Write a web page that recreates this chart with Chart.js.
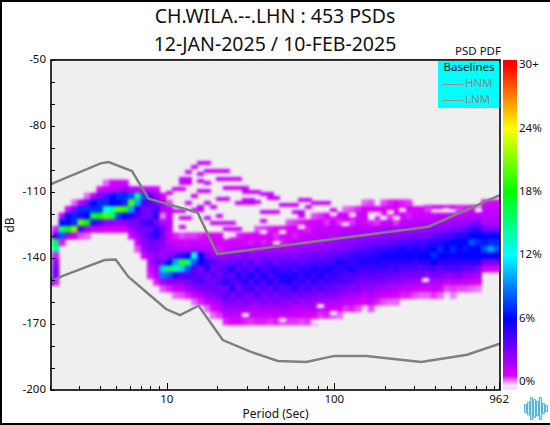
<!DOCTYPE html>
<html>
<head>
<meta charset="utf-8">
<title>PSD PDF</title>
<script src="https://cdn.jsdelivr.net/npm/chart.js@4"></script>
<style>
    html, body { margin: 0; padding: 0; background: #fff; }
    canvas { display: block; }
</style>
</head>
<body>
<canvas id="pdfChart" width="550" height="425"></canvas>
<script>
// Titles
const titleLines = ['CH.WILA.--.LHN : 453 PSDs', '12-JAN-2025 / 10-FEB-2025'];
const legendTitle = 'Baselines';
const colorbarTitle = 'PSD PDF';

// Axis ticks
const periodTicks = [2, 3, 4, 5, 6, 7, 8, 9, 10, 20, 30, 40, 50, 60, 70, 80, 90, 100, 200, 300, 400, 500, 600, 700, 800, 900, 962];
const periodLabels = [10, 100, 962];
const dbLabels = [-50, -80, -110, -140, -170, -200];
const pctTicks = [0, 6, 12, 18, 24, 30];

// Noise baselines
const hnmPeriods = [2.04, 4.03, 4.5, 6.2, 7.8, 15.3, 20, 364, 1000];
const hnmDb = [-106.4, -97, -96.4, -100.5, -113, -119.4, -138.2, -125.8, -111];
const lnmPeriods = [2.04, 2.38, 4.25, 4.96, 5.9, 7.7, 9.9, 12, 15.5, 21.6, 31.8, 46, 68, 100, 155, 330, 620, 1000];
const lnmDb = [-150.8, -148.2, -140.9, -140.7, -148.5, -156, -163.2, -166, -161.7, -177.3, -182.7, -186.8, -187.3, -184.5, -184.5, -187.3, -184, -178.6];

// Colour bar: percent -> colour
const colorPcts = [-0.3, 0.6, 6, 12, 18, 24, 30];
const colorRgb = [[246, 222, 248], [216, 0, 255], [0, 0, 255], [0, 255, 255], [0, 255, 0], [255, 255, 0], [255, 0, 0]];

// PDF: period of each column, dB of the top cell in it, then percent per 3 dB going down
const pdfPeriods = [2, 2.18, 2.38, 2.59, 2.83, 3.08, 3.36, 3.67, 4, 4.36, 4.76, 5.19, 5.66, 6.17, 6.73, 7.34,
    8, 8.72, 9.51, 10.37, 11.31, 12.34, 13.45, 14.67, 16, 17.45, 19.03, 20.75, 22.63, 24.68, 26.91, 29.34,
    32, 34.9, 38.05, 41.5, 45.25, 49.35, 53.82, 58.69, 64, 69.79, 76.11, 83, 90.51, 98.7, 107.6, 117.4,
    128, 139.6, 152.2, 166, 181, 197.4, 215.3, 234.8, 256, 279.2, 304.4, 332, 362, 394.8, 430.5, 469.5,
    512, 558.3, 608.9, 664, 724, 789.6, 861, 939];
const pdfTopDb = [-139, -127, -121, -118, -115, -115, -112, -112, -109, -106, -106, -106, -106, -109, -109, -109,
    -109, -109, -112, -97, -97, -97, -97, -97, -97, -97, -97, -97, -97, -97, -97, -97,
    -97, -97, -97, -97, -97, -97, -97, -97, -97, -97, -97, -97, -97, -97, -97, -118,
    -118, -118, -115, -115, -118, -115, -115, -115, -115, -115, -118, -118, -118, -115, -115, -115,
    -115, -115, -115, -115, -115, -115, -115, -115];
const pdfValues = [
    [3, 6, 15, 18, 3],
    [0.5, 4, 16, 14, 0.5, 2, 3, 3, 0.5],
    [1.2, 6, 15, 8, 0.5],
    [0.7, 6, 6, 18, 2],
    [0.2, 3, 7, 7, 21, 1],
    [1.5, 7, 5, 20, 4, 0.3],
    [0.2, 3, 7, 6, 18, 2, 0.2],
    [1.5, 6, 7, 17, 5, 1],
    [0.7, 3, 7, 7, 18, 4, 1],
    [0.2, 1.2, 4, 7, 12, 20, 2.5, 0.7],
    [0.7, 1.5, 6, 6, 14, 16, 2.5, 0.7],
    [0.7, 1.5, 7, 6, 20, 7, 2, 0.7],
    [0.7, 2.5, 7, 7, 19, 6, 2.5, 0.7],
    [1.5, 8, 20, 10, 5, 3, 2, 0.8],
    [1.5, 15, 10, 5, 4, 3, 3, 2, 1, 0.3],
    [1.2, 8, 4, 3, 3, 4, 3, 3, 2.5, 2, 0.8],
    [1, 4, 4, 3, 3, 5, 3, 4, 3, 3, 2, 1.5, 1, 0.5],
    [0.7, 2.5, 3, 4.5, 5, 3, 5, 5, 3, 3, 2.5, 3, 2, 1.5, 0.5],
    [0.7, 2, 1.5, 0.1, 1.5, 3, 3, 2.5, 2, 2, 3, 11, 9, 2, 0.3],
    [0, 0, 0, 0, 0, 0, 0.3, 1.2, 1, 1.5, 1.2, 1.2, 1.2, 2, 2.5, 6, 16, 8, 2.5, 0.5],
    [0, 0, 0, 0, 0, 0, 0, 0, 0, 0, 0, 0.5, 1, 1.5, 4, 10, 14, 5, 2.5, 1, 0.2],
    [0, 0, 0, 0, 0, 0, 0, 0, 0, 0, 0, 0.3, 0.8, 1.5, 5, 19, 11, 4, 2.5, 1.2, 0.3],
    [0, 0, 0, 0, 0, 0, 0, 0, 0, 0, 0, 0.4, 0.7, 1.5, 6, 15, 8, 4, 3, 2, 0.5],
    [0, 0, 0, 0, 0, 0, 0, 0, 0, 0, 0, 0.4, 0.8, 2.5, 12, 8, 4, 4, 3.5, 2.5, 1, 0.2],
    [0, 0, 0, 0, 0, 0, 0, 0, 0, 0, 0, 0.5, 0.8, 1.5, 6, 6, 3, 3.5, 4, 3, 1.5, 0.5],
    [0, 0, 0, 0, 0, 0, 0, 0, 0, 0, 0, 0.6, 0.8, 1.5, 3, 4.5, 5, 3, 3.5, 3, 2.5, 1, 0.2],
    [0, 0, 0, 0, 0, 0, 0, 0, 0, 0, 0, 0.6, 0.8, 1.2, 2, 4, 3, 4, 3, 3.5, 2.5, 1.5, 0.7, 0.2],
    [0, 0, 0, 0, 0, 0, 0, 0, 0, 0, 0, 0.6, 0.8, 0.5, 2, 3, 3.5, 3, 4, 3, 3, 2, 1.2, 0.4],
    [0, 0, 0, 0, 0, 0, 0, 0, 0, 0, 0, 0, 0.6, 1, 2, 3, 4, 4, 5, 3, 4, 3, 2, 1.2, 0.5],
    [0, 0, 0, 0, 0, 0, 0, 0, 0, 0, 0, 0.4, 0.8, 1.2, 2.5, 3, 5, 3.5, 4, 5, 3, 3, 2, 1.2, 0.6],
    [0, 0, 0, 0, 0, 0, 0, 0, 0, 0, 0, 0.5, 0.8, 1.5, 2, 4, 3.5, 5, 4, 3, 4, 2.5, 2, 1.2, 0.6],
    [0, 0, 0, 0, 0, 0, 0, 0, 0, 0, 0, 0.6, 0.7, 1.5, 3, 3, 4.5, 4, 5, 4, 3, 3, 2, 1.2, 0.5],
    [0, 0, 0, 0, 0, 0, 0, 0, 0, 0, 0, 0.7, 0.5, 1.5, 2, 4, 3.5, 5.5, 4, 4.5, 3, 2.5, 1.7, 1, 0.4],
    [0, 0, 0, 0, 0, 0, 0, 0, 0, 0, 0.3, 0.7, 0.8, 1.7, 2.5, 3, 5, 4, 5, 3.5, 4, 2.5, 1.7, 1, 0.5],
    [0, 0, 0, 0, 0, 0, 0, 0, 0, 0, 0.4, 0.7, 0.5, 1.5, 3, 3.5, 4, 5.5, 4, 4, 3, 3, 1.7, 1, 0.5],
    [0, 0, 0, 0, 0, 0, 0, 0, 0, 0, 0.5, 0.8, 0.8, 2, 2.5, 4, 4.5, 4, 5.5, 3.5, 3.5, 2.5, 2, 1, 0.4],
    [0, 0, 0, 0, 0, 0, 0, 0, 0, 0, 0.6, 0.4, 1, 1.7, 3, 3, 5, 5, 4, 4.5, 3, 3, 1.7, 1, 0.5],
    [0, 0, 0, 0, 0, 0, 0, 0, 0, 0, 0.6, 0.9, 0.5, 2, 2.5, 4, 4, 5.5, 5, 3.5, 3.5, 2.5, 2, 1, 0.4],
    [0, 0, 0, 0, 0, 0, 0, 0, 0, 0.3, 0.7, 0.8, 1, 1.8, 3, 3.5, 4.5, 5, 5.5, 4, 3.5, 2.5, 1.7, 1, 0.4],
    [0, 0, 0, 0, 0, 0, 0, 0, 0, 0.4, 0.8, 0.5, 1.2, 2, 2.5, 4, 4, 5.5, 4.5, 5, 3, 2.7, 1.5, 0.8, 0.4],
    [0, 0, 0, 0, 0, 0, 0, 0, 0, 0.5, 0.8, 1, 1.5, 2.2, 3, 3.5, 5, 4.5, 5, 3.5, 3.5, 2, 1.5, 0.7, 0.3],
    [0, 0, 0, 0, 0, 0, 0, 0, 0, 0.6, 0.5, 1, 1.2, 2.5, 3, 4, 4.5, 5.5, 4, 4.5, 3, 2.5, 1.5, 0.8, 0.4],
    [0, 0, 0, 0, 0, 0, 0, 0, 0.3, 0.8, 0.9, 1, 1.8, 2.2, 3.5, 4, 5.5, 4.5, 5, 3.5, 3, 2, 1.5, 0.6, 0.2],
    [0, 0, 0, 0, 0, 0, 0, 0, 0.4, 0.8, 1.2, 1.5, 1.5, 2.7, 3, 4.5, 4.5, 5.5, 4, 4, 2.5, 2, 1.2, 0.4],
    [0, 0, 0, 0, 0, 0, 0, 0, 0.6, 0.4, 1, 1.5, 2, 2.5, 3.5, 4, 5.5, 4.5, 4.5, 3.5, 3, 1.7, 1, 0.5],
    [0, 0, 0, 0, 0, 0, 0, 0, 0.5, 0.9, 1.2, 1.3, 2, 3, 3.5, 4.5, 5, 5, 4, 3.5, 2.5, 1.7, 1, 0.3],
    [0, 0, 0, 0, 0, 0, 0, 0, 0.7, 0.4, 1.2, 1.5, 2.2, 2.7, 4, 5.5, 4.5, 4.5, 4, 3, 2.5, 1.5, 0.7, 0.2],
    [0.2, 0.8, 1, 1.2, 1.7, 2.5, 3, 4, 5, 5, 4, 4, 3, 2, 1.2, 0.4],
    [0.3, 0.8, 0.4, 1.3, 1.7, 2.5, 3.5, 4.5, 4.5, 5.5, 4, 3.5, 2.5, 2, 1.2, 0.5],
    [0.5, 0.8, 1, 1.5, 2, 2.7, 3.5, 5, 5, 4.5, 4, 3, 3, 1.7, 1, 0.3],
    [0.2, 0.7, 1, 0.7, 1.5, 2, 3, 4, 4.5, 5.5, 4.5, 3.5, 3, 2, 1.2, 0.6],
    [0.3, 0.6, 0.9, 0.5, 1.5, 2.2, 3, 4, 5, 5, 4.5, 4, 3, 2.5, 1.7, 1, 0.3],
    [0.6, 0.8, 0.4, 1.6, 2.2, 3.2, 4.5, 5, 5.5, 4.5, 3.5, 3, 2, 1.2, 0.5],
    [0.3, 0.8, 0.5, 1, 1.7, 2.5, 3, 4.5, 6, 5, 4.5, 3.5, 3, 1.7, 1, 0.3],
    [0.5, 0.8, 0.4, 1.2, 1.8, 2.7, 3.5, 5, 5.5, 5, 4, 3.5, 2.5, 1.7, 0.7, 0.2],
    [0.6, 0.9, 0.6, 0.4, 1.7, 2.5, 3.5, 5, 6, 5, 4.5, 3.5, 2.5, 1.5, 0.7, 0.2],
    [0.5, 0.8, 0.8, 1.3, 1.8, 2.7, 4, 5.5, 5.5, 5, 4, 3, 2.5, 1.2, 0.5],
    [0.4, 0.9, 0.5, 1.3, 2, 2.7, 4, 5, 6, 5, 4, 3, 2, 1.2, 0.5],
    [0.7, 0.8, 1.4, 2, 3, 4.5, 5.5, 5.5, 4.5, 4, 3, 2, 1, 0.3],
    [0.6, 0.9, 1.5, 2, 3, 4, 5, 6, 5, 3.5, 3, 1.7, 0.7, 0.2],
    [0.4, 0.9, 1.5, 2.2, 3, 4.5, 5.5, 6, 5, 4, 2.5, 1.5, 0.7, 0.2],
    [0, 0, 1, 1.6, 2.5, 3.5, 5, 6, 7, 6, 4, 3, 1.7, 0.9, 0.4],
    [0, 0, 1.2, 1.7, 2.5, 4, 5, 7, 6, 5, 3.5, 3, 1.5, 0.7, 0.2],
    [0, 0, 1.2, 1.7, 2.7, 4, 5.5, 6, 6, 5, 4, 2.5, 1.2, 0.3],
    [0, 0, 1.3, 2, 3, 4.5, 6, 7, 5.5, 5, 4, 2.5, 1.2, 0.4, 0.1],
    [0, 0.4, 1.4, 2, 3, 5, 6, 6, 6, 5, 4, 3, 1.2, 0.3],
    [0, 0.5, 1.4, 2.2, 3.5, 5, 6, 6.5, 6, 5, 3.5, 2, 1, 0.3],
    [0, 0.7, 1.6, 2.7, 4.5, 6, 8, 6, 6, 5, 3.5, 2, 0.8, 0.2],
    [0, 0.4, 1.6, 2.7, 5, 6, 7, 6, 6, 5, 3, 1.8, 0.7, 0.1],
    [0.6, 1.2, 1.3, 1.6, 3, 6, 6.5, 8, 6, 3, 0.8],
    [0.6, 1.2, 1.3, 1.6, 3, 6, 7, 10, 6, 3, 0.8],
    [0.6, 1.2, 1.4, 1.7, 3, 6, 7, 8, 6, 3, 0.6]
];

// Rare PSDs above the main mass, thin magenta dashes
const rarePeriods = [16, 17.45, 14.67, 13.45, 17.45, 19.03, 20.75, 22.63, 16, 12.34, 13.45, 16, 17.45,
    20.75, 22.63, 24.68, 26.91, 12.34, 13.45, 11.31, 12.34, 22.63, 24.68, 26.91, 29.34, 16, 17.45, 10.37,
    14.67, 20.75, 22.63, 13.45, 17.45, 26.91, 29.34, 32, 16, 19.03, 11.31, 12.34, 14.67, 16, 12.34, 13.45,
    17.45, 20.75, 19.03, 20.75, 22.63, 24.68, 12.34, 22.63, 24.68, 26.91,
    29.34, 32, 34.9, 38.05, 41.5, 29.34, 32, 34.9, 41.5, 45.25, 49.35, 53.82, 58.69, 64, 69.79, 76.11, 83, 90.51,
    38.05, 41.5, 45.25, 58.69, 64, 69.79, 98.7, 64, 98.7, 107.6, 38.05,
    362, 394.8, 430.5, 469.5, 512, 558.3, 608.9, 664, 430.5, 512, 512];
const rareDb = [-97, -97, -98.6, -101, -100.5, -100.5, -100.5, -100.5, -102, -104, -104, -105, -106,
    -104, -104, -104, -104, -106, -106, -108.5, -108.5, -108, -108, -108, -108, -109.5, -109.5, -110.5,
    -112, -113, -113, -115, -115, -115, -115, -115, -117, -117, -118.5, -118.5, -118, -118, -122, -122,
    -122, -121, -124, -124, -124, -124, -126, -127, -127, -127,
    -110, -110, -110, -111, -111, -113.6, -113.6, -114.5, -112.7, -112.7, -116, -116, -116, -113.6, -113.6, -115, -115, -115,
    -119, -119, -119, -119, -119, -117, -118, -121, -120, -120, -123,
    -117, -117, -117, -117, -117, -117, -117, -117, -153, -149, -151.5];

// Almost empty bins at the rim of the mass, pale dashes
const palePeriods = [24.68, 38.05, 49.35, 64, 45.25, 117.4, 98.7, 128, 166, 98.7, 83, 49.35, 29.34, 76.11,
    181, 215.3, 256, 166, 197.4, 234.8, 469.5, 724, 351];
const paleDb = [-129.5, -128, -128, -126, -133, -124.5, -120, -120.5, -120, -165, -162, -168, -166, -169,
    -120, -119, -118, -122, -122, -122, -118, -118, -150];

// Decorative logo bar heights, bottom right corner
const logoBars = [8, 13, 22, 18, 15, 22, 10, 6];

// Percent -> rgb
function pctColor(pct) {
    let i = 0;
    while (i < colorPcts.length - 2 && pct > colorPcts[i + 1]) i++;
    const t = Math.min(1, Math.max(0, (pct - colorPcts[i]) / (colorPcts[i + 1] - colorPcts[i])));
    const c = colorRgb[i].map((v, j) => Math.round(v + (colorRgb[i + 1][j] - v) * t));
    return `rgb(${c[0]}, ${c[1]}, ${c[2]})`;
}

// Flatten the columns into points for the scatter dataset
const cellPoints = [];
const cellColors = [];
pdfValues.forEach((column, k) => {
    column.forEach((pct, row) => {
        if (pct > 0) {
            cellPoints.push({ x: pdfPeriods[k], y: pdfTopDb[k] - 3 * row });
            cellColors.push(pctColor(pct));
        }
    });
});

const toPoints = (xs, ys) => xs.map((x, i) => ({ x: x, y: ys[i] }));
const textFont = '"Noto Sans", sans-serif';

// Small flat rectangle used as point style for the dashes
function dashStyle(color) {
    const c = document.createElement('canvas');
    c.width = 7;
    c.height = 4;
    const g = c.getContext('2d');
    g.fillStyle = color;
    g.fillRect(0, 0, 7, 4);
    return c;
}

// White page, the canvas is opaque
const pageBackground = {
    id: 'pageBackground',
    beforeDraw(chart) {
        chart.ctx.fillStyle = '#fff';
        chart.ctx.fillRect(0, 0, 550, 425);
    }
};

// Soften the finished PDF cells in one go, like the original raster
const blurCells = {
    id: 'blurCells',
    afterDatasetDraw(chart, args) {
        if (args.index !== 4) return;
        const ctx = chart.ctx;
        const a = chart.chartArea;
        ctx.save();
        ctx.beginPath();
        ctx.rect(a.left, a.top, a.width, a.height);
        ctx.clip();
        ctx.filter = 'blur(1.6px)';
        ctx.drawImage(chart.canvas, a.left, a.top, a.width, a.height, a.left, a.top, a.width, a.height);
        ctx.restore();
    }
};

// Plot background behind the datasets
const plotBackground = {
    id: 'plotBackground',
    beforeDatasetsDraw(chart) {
        const a = chart.chartArea;
        chart.ctx.fillStyle = '#efefef';
        chart.ctx.fillRect(a.left, a.top, a.width, a.height);
    }
};

// Frame, inner ticks, colour bar, legend box, logo
const decorations = {
    id: 'decorations',
    afterDraw(chart) {
        const ctx = chart.ctx;
        const a = chart.chartArea;
        const sx = chart.scales.x;
        const sy = chart.scales.y;
        const sp = chart.scales.pct;

        ctx.save();

        // image border, no line on the right side
        ctx.fillStyle = '#000';
        ctx.fillRect(0, 0, 550, 2);
        ctx.fillRect(0, 0, 2, 425);
        ctx.fillRect(0, 423, 550, 2);

        // inner ticks
        ctx.strokeStyle = '#000';
        ctx.lineWidth = 1;
        ctx.beginPath();
        periodTicks.forEach(v => {
            const x = Math.round(sx.getPixelForValue(v)) + 0.5;
            ctx.moveTo(x, a.bottom);
            ctx.lineTo(x, a.bottom - (periodLabels.includes(v) ? 7 : 4));
        });
        sy.ticks.forEach(t => {
            const y = Math.round(sy.getPixelForValue(t.value)) + 0.5;
            ctx.moveTo(a.left, y);
            ctx.lineTo(a.left + 4, y);
        });
        ctx.stroke();

        // plot frame
        ctx.lineWidth = 1.6;
        ctx.strokeRect(a.left, a.top, a.width, a.height);

        // colour bar
        const low = colorPcts[0];
        const grad = ctx.createLinearGradient(0, sp.getPixelForValue(low), 0, sp.getPixelForValue(30));
        colorPcts.forEach(p => grad.addColorStop((p - low) / (30 - low), pctColor(p)));
        ctx.fillStyle = grad;
        ctx.fillRect(503, a.top, 14, a.height);

        // legend box
        ctx.fillStyle = '#00ffff';
        ctx.fillRect(438, a.top + 1, a.right - 439, 47);

        ctx.font = '11.5px ' + textFont;
        ctx.textBaseline = 'middle';
        ctx.textAlign = 'center';
        ctx.fillStyle = '#111';
        ctx.fillText(legendTitle, 469, 68);
        ctx.fillText(colorbarTitle, 478, 52);

        ctx.textAlign = 'left';
        [chart.data.datasets[1], chart.data.datasets[2]].forEach((set, i) => {
            const y = 84 + i * 16;
            ctx.strokeStyle = '#a08a8a';
            ctx.lineWidth = 1;
            ctx.beginPath();
            ctx.moveTo(442, y + 0.5);
            ctx.lineTo(463, y + 0.5);
            ctx.stroke();
            ctx.fillStyle = '#888';
            ctx.fillText(set.label, 465, y);
        });

        // logo
        ctx.fillStyle = '#cdeff7';
        ctx.strokeStyle = '#55b4d0';
        ctx.lineWidth = 1;
        logoBars.forEach((h, i) => {
            ctx.beginPath();
            ctx.rect(524.5 + i * 3, 408.5 - h / 2, 2, h);
            ctx.fill();
            ctx.stroke();
        });

        ctx.restore();
    }
};

const pdfChart = new Chart(document.getElementById('pdfChart').getContext('2d', { alpha: false }), {
    type: 'scatter',
    data: {
        datasets: [{
            label: 'PDF',
            data: cellPoints,
            pointStyle: 'rect',
            pointRadius: 5,
            pointBorderWidth: 0,
            backgroundColor: cellColors,
            order: 3
        }, {
            label: 'HNM',
            data: toPoints(hnmPeriods, hnmDb),
            showLine: true,
            pointRadius: 0,
            borderColor: '#808080',
            borderWidth: 2.5,
            order: 1
        }, {
            label: 'LNM',
            data: toPoints(lnmPeriods, lnmDb),
            showLine: true,
            pointRadius: 0,
            borderColor: '#808080',
            borderWidth: 2.5,
            order: 1
        }, {
            label: 'Rare',
            data: toPoints(rarePeriods, rareDb),
            pointStyle: dashStyle(pctColor(1)),
            pointRadius: 3,
            order: 3
        }, {
            label: 'Pale',
            data: toPoints(palePeriods, paleDb),
            pointStyle: dashStyle('#f9f0fa'),
            pointRadius: 3,
            order: 2
        }]
    },
    options: {
        responsive: false,
        animation: false,
        events: [],
        layout: { padding: 0 },
        plugins: {
            legend: { display: false },
            tooltip: { enabled: false },
            title: {
                display: true,
                text: titleLines,
                color: '#111',
                font: { family: textFont, size: 19.5, weight: 'normal', lineHeight: 1.44 },
                padding: { top: 3, bottom: 0.8 }
            }
        },
        scales: {
            x: {
                type: 'logarithmic',
                min: 2.04,
                max: 974,
                grid: { display: false, drawTicks: false },
                border: { display: false },
                afterBuildTicks: scale => {
                    scale.ticks = periodTicks.map(v => ({ value: v }));
                },
                afterFit: scale => { scale.height = 35; },
                ticks: {
                    autoSkip: false,
                    maxRotation: 0,
                    padding: 3,
                    color: '#111',
                    font: { family: textFont, size: 11.5 },
                    callback: v => periodLabels.includes(v) ? String(v) : ''
                },
                title: {
                    display: true,
                    text: 'Period (Sec)',
                    color: '#111',
                    font: { family: textFont, size: 12 },
                    padding: { top: 0, bottom: 3 }
                }
            },
            y: {
                min: -200,
                max: -50,
                grid: { display: false, drawTicks: false },
                border: { display: false },
                afterFit: scale => { scale.width = 51; },
                ticks: {
                    stepSize: 10,
                    autoSkip: false,
                    padding: 5,
                    color: '#111',
                    font: { family: textFont, size: 11.5 },
                    callback: v => dbLabels.includes(v) ? String(v) : ''
                },
                title: {
                    display: true,
                    text: 'dB',
                    color: '#111',
                    font: { family: textFont, size: 12 },
                    padding: { top: 3, bottom: 0 }
                }
            },
            pct: {
                position: 'right',
                min: -0.76,
                max: 30.47,
                grid: { display: false, drawTicks: false },
                border: { display: false },
                afterBuildTicks: scale => {
                    scale.ticks = pctTicks.map(v => ({ value: v }));
                },
                afterFit: scale => { scale.width = 50; },
                ticks: {
                    autoSkip: false,
                    padding: 19,
                    color: '#111',
                    font: { family: textFont, size: 11.5 },
                    callback: v => v === 30 ? '30+' : v + '%'
                }
            }
        }
    },
    plugins: [pageBackground, plotBackground, blurCells, decorations]
});
</script>
</body>
</html>
